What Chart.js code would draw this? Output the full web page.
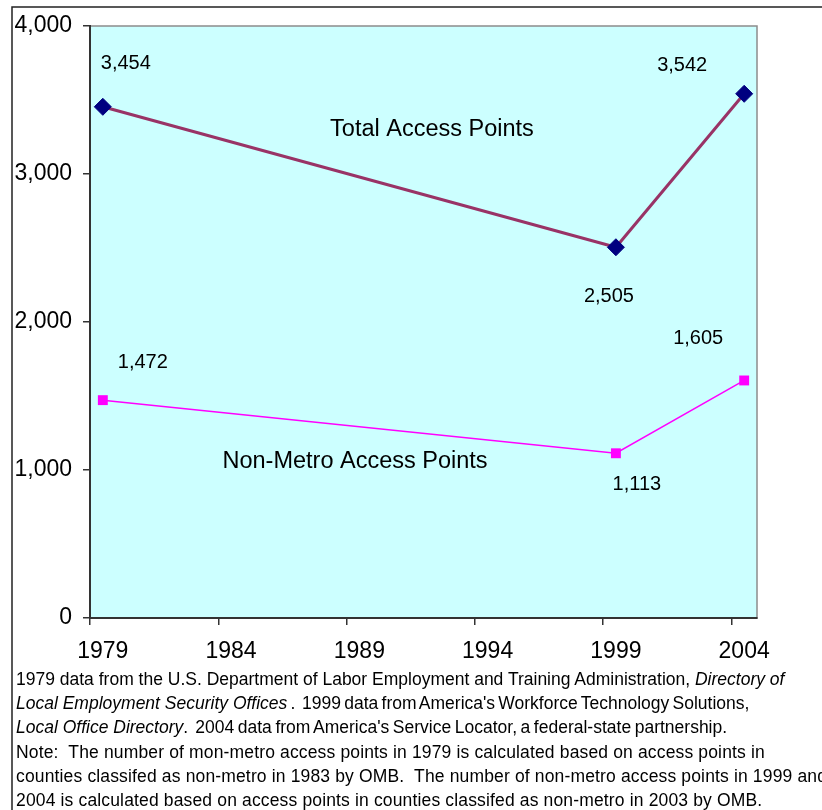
<!DOCTYPE html>
<html>
<head>
<meta charset="utf-8">
<script src="https://cdn.jsdelivr.net/npm/chart.js@4/dist/chart.umd.min.js"></script>
<style>
  html, body { margin: 0; padding: 0; background: #fff; overflow: hidden; }
  #wrap { position: relative; width: 822px; height: 810px; overflow: hidden; }
  canvas { position: absolute; left: 0; top: 0; }
  #note {
    position: absolute; left: 16px; top: 667px;
    font-family: "Liberation Sans", Arial, sans-serif; font-size: 17.5px;
    line-height: 24.2px; color: #000; white-space: pre;
  }
  .tight { word-spacing: -1.6px; }
  .tight2 { word-spacing: -1.3px; }
  .wide { letter-spacing: 0.15px; }
</style>
</head>
<body>
<div id="wrap">
  <canvas id="c" width="822" height="810"></canvas>
  <div id="note">1979 data from the U.S. Department of Labor Employment and Training Administration, <i>Directory of</i>
<i>Local Employment Security Offices</i><span class="tight"> .  1999 data from America's Workforce Technology Solutions,</span>
<i>Local Office Directory</i><span class="tight2">.  2004 data from America's Service Locator, a federal-state partnership.</span>
<span class="wide">Note:  The number of mon-metro access points in 1979 is calculated based on access points in</span>
<span class="wide">counties classifed as non-metro in 1983 by OMB.  The number of non-metro access points in 1999 and</span>
<span class="wide">2004 is calculated based on access points in counties classifed as non-metro in 2003 by OMB.</span></div>
</div>
<script>
// ---- data ----
const years = [1979, 1999, 2004];
const totalAccessPoints = [3454, 2505, 3542];
const nonMetroAccessPoints = [1472, 1113, 1605];
const seriesNames = ['Total Access Points', 'Non-Metro Access Points'];
const xTickYears = [1979, 1984, 1989, 1994, 1999, 2004];
const xTickLabels = ['1979', '1984', '1989', '1994', '1999', '2004'];
const yTickValues = [0, 1000, 2000, 3000, 4000];
const yTickLabels = ['0', '1,000', '2,000', '3,000', '4,000'];

// ---- presentation (positions of annotations, not data) ----
const valueLabelOffsets = [
  [[23, -43], [-7, 49], [-62, -28]],
  [[40, -38], [21, 31], [-46, -42]]
];
const seriesNamePos = [[1991.83, 3298], [1988.83, 1055]];

const fontFam = '"Liberation Sans", Arial, sans-serif';

const fmt = v => v.toLocaleString('en-US');

const bgPlugin = {
  id: 'bg',
  beforeDraw(chart) {
    const { ctx, chartArea: a } = chart;
    ctx.save();
    ctx.fillStyle = '#CCFFFF';
    ctx.fillRect(a.left, a.top, a.right - a.left, a.bottom - a.top);
    ctx.strokeStyle = '#8c8c8c';
    ctx.lineWidth = 1.5;
    ctx.strokeRect(a.left, a.top, a.right - a.left, a.bottom - a.top);
    // outer frame
    ctx.strokeStyle = '#222';
    ctx.lineWidth = 1.5;
    ctx.beginPath();
    ctx.moveTo(12, 810);
    ctx.lineTo(12, 7);
    ctx.lineTo(822, 7);
    ctx.stroke();
    ctx.restore();
  },
  afterDatasetsDraw(chart) {
    const { ctx } = chart;
    const xs = chart.scales.x, ys = chart.scales.y;
    ctx.save();
    ctx.fillStyle = '#000';
    ctx.textAlign = 'center';
    ctx.textBaseline = 'middle';
    ctx.font = '20px ' + fontFam;
    chart.data.datasets.forEach((ds, di) => {
      const meta = chart.getDatasetMeta(di);
      meta.data.forEach((pt, i) => {
        const off = valueLabelOffsets[di][i];
        ctx.fillText(fmt(ds.data[i].y), pt.x + off[0], pt.y + off[1]);
      });
    });
    ctx.font = '23.5px ' + fontFam;
    seriesNames.forEach((n, i) => {
      ctx.fillText(n, xs.getPixelForValue(seriesNamePos[i][0]), ys.getPixelForValue(seriesNamePos[i][1]));
    });
    ctx.restore();
  }
};

new Chart(document.getElementById('c'), {
  type: 'line',
  data: {
    datasets: [
      {
        label: seriesNames[0],
        data: years.map((y, i) => ({ x: y, y: totalAccessPoints[i] })),
        borderColor: '#993366',
        borderWidth: 3,
        pointStyle: 'rectRot',
        pointRadius: 8.5,
        pointBackgroundColor: '#000080',
        pointBorderColor: '#000080',
        pointBorderWidth: 1,
        tension: 0,
        clip: false
      },
      {
        label: seriesNames[1],
        data: years.map((y, i) => ({ x: y, y: nonMetroAccessPoints[i] })),
        borderColor: '#FF00FF',
        borderWidth: 1.5,
        pointStyle: 'rect',
        pointRadius: 7,
        pointBackgroundColor: '#FF00FF',
        pointBorderColor: '#FF00FF',
        pointBorderWidth: 0,
        tension: 0,
        clip: false
      }
    ]
  },
  options: {
    responsive: false,
    animation: false,
    devicePixelRatio: 1,
    layout: { padding: { left: 0, top: 26, right: 65, bottom: 132 } },
    plugins: { legend: { display: false }, tooltip: { enabled: false } },
    scales: {
      x: {
        type: 'linear',
        min: 1978.5,
        max: 2004.5,
        afterBuildTicks(scale) {
          scale.ticks = xTickYears.map(v => ({ value: v - 0.5 }));
        },
        afterFit(scale) { scale.height = 60; },
        ticks: {
          autoSkip: false,
          maxRotation: 0,
          labelOffset: 12.8,
          padding: 13,
          color: '#000',
          font: { family: fontFam, size: 23 },
          callback: (v, i) => xTickLabels[i]
        },
        grid: { drawOnChartArea: false, drawTicks: true, tickLength: 7, color: '#333', lineWidth: 1.5 },
        border: { display: true, color: '#333', width: 2 }
      },
      y: {
        type: 'linear',
        min: 0,
        max: 4000,
        afterBuildTicks(scale) {
          scale.ticks = yTickValues.map(v => ({ value: v }));
        },
        afterFit(scale) { scale.width = 90; },
        ticks: {
          padding: 11,
          color: '#000',
          font: { family: fontFam, size: 23 },
          callback: (v, i) => yTickLabels[i]
        },
        grid: { drawOnChartArea: false, drawTicks: true, tickLength: 7, color: '#333', lineWidth: 1.5 },
        border: { display: true, color: '#333', width: 2 }
      }
    }
  },
  plugins: [bgPlugin]
});
</script>
</body>
</html>
